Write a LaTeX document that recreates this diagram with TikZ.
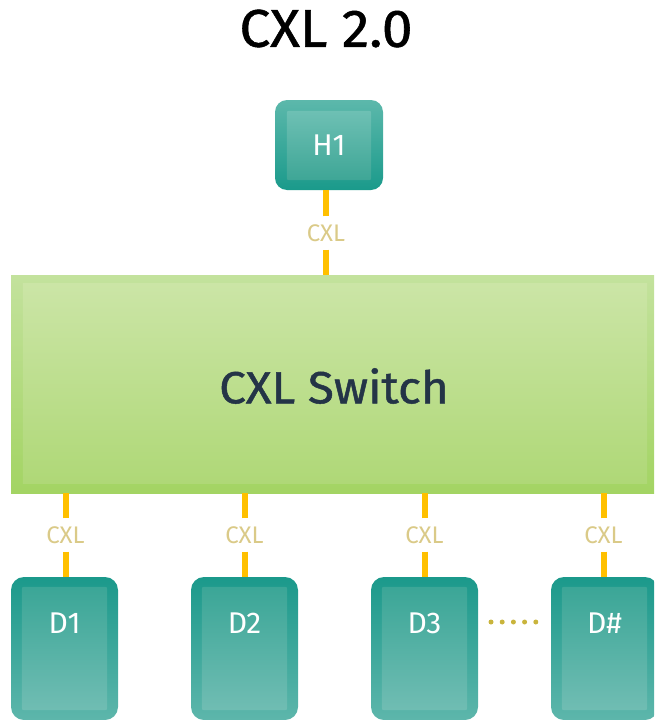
\documentclass[tikz,border=0pt]{standalone}
\usepackage{fontspec}
\setmainfont{Fira Sans}
\newfontfamily\medfont{Fira Sans}[FakeBold=1.0]
\begin{document}
\begin{tikzpicture}[x=1pt,y=-1pt,
  link/.style={draw=linkyellow, line width=6pt},
  linklabel/.style={text=labelkhaki, font=\fontsize{24}{24}\selectfont, inner sep=0pt, minimum height=33pt},
  hostbox/.style={rounded corners=12pt, top color=hostouttop, bottom color=hostoutbot, minimum width=108pt, minimum height=90pt, inner sep=0pt},
  devbox/.style={rounded corners=13pt, top color=devouttop, bottom color=devoutbot, minimum width=107pt, minimum height=143pt, inner sep=0pt},
  switchbox/.style={top color=swouttop, bottom color=swoutbot, minimum width=648pt, minimum height=218pt, inner sep=0pt},
  boxtext/.style={text=white, font=\fontsize{30}{30}\selectfont},
  dot/.style={circle, fill=dotgold, inner sep=0pt, minimum size=5pt}
]
\definecolor{linkyellow}{HTML}{FFC000}
\definecolor{labelkhaki}{HTML}{DACA88}
\definecolor{hostouttop}{HTML}{5CB8AB}
\definecolor{hostoutbot}{HTML}{1A9A8B}
\definecolor{hostintop}{HTML}{6EC0B4}
\definecolor{hostinbot}{HTML}{3EA696}
\definecolor{devouttop}{HTML}{1B998B}
\definecolor{devoutbot}{HTML}{5DB6AB}
\definecolor{devintop}{HTML}{3BA697}
\definecolor{devinbot}{HTML}{70BDB3}
\definecolor{swouttop}{HTML}{C3E29D}
\definecolor{swoutbot}{HTML}{A3D463}
\definecolor{swintop}{HTML}{CBE5A6}
\definecolor{swinbot}{HTML}{AFD877}
\definecolor{swtext}{HTML}{243447}
\definecolor{dotgold}{HTML}{C9B43C}

\useasboundingbox (0,0) rectangle (654,720);
\clip (0,0) rectangle (654,720);

% title
\node[font=\medfont\fontsize{53}{53}\selectfont, inner sep=0pt, xscale=1.04] (title) at (326,28.5) {CXL 2.0};

% host
\node[hostbox] (h1) at (329,145) {};
\shade[top color=hostintop, bottom color=hostinbot, rounded corners=2pt]
  ([shift={(12pt,-11pt)}]h1.north west) rectangle ([shift={(-12pt,10pt)}]h1.south east);
\node[boxtext] (h1t) at (h1.center) {H1};

% switch
\node[switchbox] (sw) at (335,384) {};
\shade[top color=swintop, bottom color=swinbot]
  ([shift={(12pt,-9pt)}]sw.north west) rectangle ([shift={(-12pt,10pt)}]sw.south east);
\node[text=swtext, font=\medfont\fontsize{45}{45}\selectfont, inner sep=0pt, xscale=1.06] (swt) at (334,386) {CXL Switch};

% devices
\foreach \name/\x/\lab in {d1/64.5/D1, d2/244.5/D2, d3/424.5/D3, dn/604.5/D\#}{
  \node[devbox] (\name) at (\x,648.5) {};
  \shade[top color=devintop, bottom color=devinbot, rounded corners=2pt]
    ([shift={(11pt,-10pt)}]\name.north west) rectangle ([shift={(-11pt,10pt)}]\name.south east);
  \node[boxtext] (\name t) at (\x,623) {\lab};
}

% host link
\node[linklabel] (lh) at (326,233) {CXL};
\draw[link] (lh.north) -- (lh.north |- h1.south);
\draw[link] (lh.south) -- (lh.south |- sw.north);

% device links
\foreach \name/\x in {d1/65.5, d2/244.5, d3/424.5, dn/603.5}{
  \node[linklabel] (l\name) at (\x,535) {CXL};
  \draw[link] (l\name.north) -- (l\name.north |- sw.south);
  \draw[link] (l\name.south) -- (l\name.south |- \name.north);
}

% ellipsis between D3 and D#
\foreach \i in {0,...,4}{
  \node[dot] (e\i) at ({491+11.2*\i},622) {};
}
\end{tikzpicture}
\end{document}
